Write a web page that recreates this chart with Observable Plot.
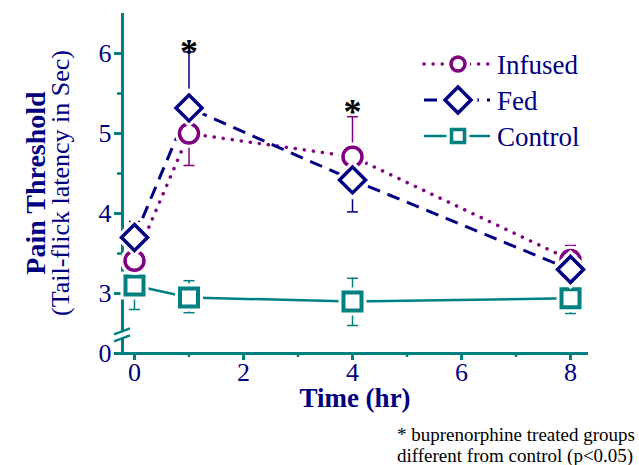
<!DOCTYPE html>
<html>
<head>
<meta charset="utf-8">
<script src="https://cdn.jsdelivr.net/npm/d3@7"></script>
<script src="https://cdn.jsdelivr.net/npm/@observablehq/plot@0.6"></script>
<style>
  html, body { margin: 0; padding: 0; background: #fff; }
  #chart svg { display: block; }
  #chart svg, #chart svg text { font-family: "Liberation Serif", "Times New Roman", serif !important; }
</style>
</head>
<body>
<div id="chart"></div>
<script>
// ---- data ----
const hours = [0, 1, 4, 8];
const seriesNames = ["Infused", "Fed", "Control"];
const infused = [3.41, 5.0, 4.71, 3.42];
const fed = [3.7, 5.32, 4.42, 3.3];
const control = [3.1, 2.95, 2.9, 2.94];
// visible error-bar halves (null = hidden behind another marker)
const infusedErrUp = [null, null, 0.5, 0.18];
const infusedErrDown = [null, 0.4, null, null];
const fedErrUp = [0.2, 0.7, null, null];
const fedErrDown = [null, null, 0.4, null];
const controlErrUp = [null, 0.21, 0.29, null];
const controlErrDown = [0.3, 0.19, 0.3, 0.19];
// significance asterisks
const sigHours = [1, 4];
const sigY = [6.08, 5.33];
// axes
const xTicks = [0, 2, 4, 6, 8];
const xMinorTicks = [1, 3, 5, 7];
const yBreakValue = 2.25;          // position where "0" sits below the axis break
const yTicks = [yBreakValue, 3, 4, 5, 6];
const yMinorTicks = [3.5, 4.5, 5.5];
const xDomain = [-0.22, 8.33];
const yDomain = [yBreakValue, 6.5];
const footnote = ["* buprenorphine treated groups", "different from control (p<0.05)"];

const colors = {Infused: "#800080", Fed: "#000080", Control: "#008080"};
const teal = "#008080", navy = "#000080";

// ---- custom symbols ----
const rOf = size => Math.sqrt(size / Math.PI);
const capSymbol = {draw(ctx, size) { const r = rOf(size); ctx.moveTo(-r, 0); ctx.lineTo(r, 0); }};
const diamondSymbol = {draw(ctx, size) { const r = rOf(size); ctx.moveTo(0, -r); ctx.lineTo(r, 0); ctx.lineTo(0, r); ctx.lineTo(-r, 0); ctx.closePath(); }};
const squareSymbol = {draw(ctx, size) { const r = rOf(size); ctx.moveTo(-r, -r); ctx.lineTo(r, -r); ctx.lineTo(r, r); ctx.lineTo(-r, r); ctx.closePath(); }};
const circleSymbol = {draw(ctx, size) { const r = rOf(size); ctx.moveTo(r, 0); ctx.arc(0, 0, r, 0, 2 * Math.PI); ctx.closePath(); }};

const seriesDefs = [
  {name: "Infused", values: infused, up: infusedErrUp, down: infusedErrDown, symbol: circleSymbol, r: 9.5, dash: "0.1 9", width: 3.5, mw: 3.5},
  {name: "Fed", values: fed, up: fedErrUp, down: fedErrDown, symbol: diamondSymbol, r: 13, dash: "13 8", width: 3, mw: 3.5},
  {name: "Control", values: control, up: controlErrUp, down: controlErrDown, symbol: squareSymbol, r: 9, dash: null, width: 2.5, mw: 4}
];

const rows = d => d.values.map((v, i) => ({hour: hours[i], value: v, up: d.up[i], down: d.down[i], name: d.name}));

const marks = [];
// axis lines
marks.push(Plot.ruleX([xDomain[0]], {y1: yDomain[0], y2: yDomain[1], stroke: teal, strokeWidth: 3}));
marks.push(Plot.ruleY([yDomain[0]], {x1: xDomain[0], x2: xDomain[1], stroke: teal, strokeWidth: 3}));
marks.push(Plot.axisY({ticks: yTicks, tickFormat: d => d === yBreakValue ? "0" : String(d), tickSize: 8, tickPadding: 3, stroke: teal, strokeWidth: 3, fill: navy, fontSize: 26, label: null}));
marks.push(Plot.axisY({ticks: yMinorTicks, tickSize: 5, text: null, stroke: teal, strokeWidth: 2.5, label: null}));
marks.push(Plot.axisX({ticks: xTicks, tickSize: 7, tickPadding: 2, stroke: teal, strokeWidth: 3, fill: navy, fontSize: 26, label: null}));
marks.push(Plot.axisX({ticks: xMinorTicks, tickSize: 4, text: null, stroke: teal, strokeWidth: 2.5, label: null}));

// lines
for (const s of seriesDefs) {
  marks.push(Plot.line(rows(s), {x: "hour", y: "value", stroke: colors[s.name], strokeWidth: s.width,
    strokeDasharray: s.dash, strokeLinecap: s.name === "Infused" ? "round" : "butt"}));
}
// error bars
for (const s of seriesDefs) {
  const ups = rows(s).filter(d => d.up != null);
  const downs = rows(s).filter(d => d.down != null);
  const c = colors[s.name];
  marks.push(Plot.ruleX(ups, {x: "hour", y1: "value", y2: d => d.value + d.up, stroke: c, strokeWidth: 1.5}));
  marks.push(Plot.dot(ups, {x: "hour", y: d => d.value + d.up, symbol: capSymbol, r: 5.5, stroke: c, strokeWidth: 1.5}));
  marks.push(Plot.ruleX(downs, {x: "hour", y1: "value", y2: d => d.value - d.down, stroke: c, strokeWidth: 1.5}));
  marks.push(Plot.dot(downs, {x: "hour", y: d => d.value - d.down, symbol: capSymbol, r: 5.5, stroke: c, strokeWidth: 1.5}));
}
// markers (with white halo to leave a gap between lines and markers)
for (const s of [seriesDefs[2], seriesDefs[0], seriesDefs[1]]) {
  marks.push(Plot.dot(rows(s), {x: "hour", y: "value", symbol: s.symbol, r: s.r, fill: "white", stroke: "white", strokeWidth: s.mw + 6}));
  marks.push(Plot.dot(rows(s), {x: "hour", y: "value", symbol: s.symbol, r: s.r, fill: "white", stroke: colors[s.name], strokeWidth: s.mw}));
}
// asterisks
marks.push(Plot.text(sigHours.map((h, i) => ({hour: h, y: sigY[i]})), {x: "hour", y: "y", text: () => "*", fontSize: 36, fontWeight: "bold", fill: "black", dy: 5}));

const plot = Plot.plot({
  width: 639, height: 465,
  marginLeft: 122, marginRight: 51, marginTop: 13, marginBottom: 112,
  x: {domain: xDomain},
  y: {domain: yDomain},
  style: {fontFamily: "'Liberation Serif', 'Times New Roman', serif", background: "white", overflow: "visible"},
  marks
});

const svg = d3.select(plot);
const xs = plot.scale("x"), ys = plot.scale("y");
const font = "'Liberation Serif', 'Times New Roman', serif";

// axis break marks
{
  const ax = xs.apply(xDomain[0]);
  const yb = ys.apply(2.52);
  const g = svg.append("g");
  g.append("path").attr("d", `M${ax - 8},${yb + 3} L${ax + 8},${yb - 3} L${ax + 8},${yb + 4} L${ax - 8},${yb + 10} Z`).attr("fill", "white");
  g.append("line").attr("x1", ax - 8).attr("y1", yb + 3).attr("x2", ax + 8).attr("y2", yb - 3).attr("stroke", teal).attr("stroke-width", 2.5);
  g.append("line").attr("x1", ax - 8).attr("y1", yb + 10).attr("x2", ax + 8).attr("y2", yb + 4).attr("stroke", teal).attr("stroke-width", 2.5);
}

// axis titles
svg.append("text").attr("x", (xs.range[0] + xs.range[1]) / 2).attr("y", 407)
  .attr("text-anchor", "middle").attr("font-family", font).attr("font-size", 27).attr("font-weight", "bold").attr("fill", navy).text("Time (hr)");
const yMid = (ys.range[0] + ys.range[1]) / 2;
svg.append("text").attr("transform", `translate(45,${yMid}) rotate(-90)`)
  .attr("text-anchor", "middle").attr("font-family", font).attr("font-size", 28).attr("font-weight", "bold").attr("fill", navy).text("Pain Threshold");
svg.append("text").attr("transform", `translate(69,${yMid}) rotate(-90)`)
  .attr("text-anchor", "middle").attr("font-family", font).attr("font-size", 26).attr("fill", navy).text("(Tail-flick latency in Sec)");

// legend
{
  const rowsY = [64, 100, 136];
  const legendSyms = [
    {sym: d3.symbol(circleSymbol, Math.PI * 7 * 7), w: 3.5},
    {sym: d3.symbol(diamondSymbol, Math.PI * 13 * 13), w: 3.5},
    {sym: d3.symbol(squareSymbol, Math.PI * 6.5 * 6.5), w: 3.5}
  ];
  seriesDefs.forEach((s, i) => {
    const y = rowsY[i];
    const g = svg.append("g");
    g.append("line").attr("x1", 424).attr("x2", 490).attr("y1", y).attr("y2", y)
      .attr("stroke", colors[s.name]).attr("stroke-width", s.width)
      .attr("stroke-dasharray", s.name === "Infused" ? "0.1 9" : s.name === "Fed" ? "13 8" : null)
      .attr("stroke-linecap", s.name === "Infused" ? "round" : "butt");
    g.append("path").attr("transform", `translate(458,${y})`).attr("d", legendSyms[i].sym())
      .attr("fill", "white").attr("stroke", "white").attr("stroke-width", 10);
    g.append("path").attr("transform", `translate(458,${y})`).attr("d", legendSyms[i].sym())
      .attr("fill", "white").attr("stroke", colors[s.name]).attr("stroke-width", legendSyms[i].w);
    g.append("text").attr("x", 497).attr("y", y + 10).attr("text-anchor", "start").attr("font-family", font).attr("font-size", 27)
      .attr("fill", navy).text(s.name);
  });
}

// footnote
footnote.forEach((t, i) => {
  svg.append("text").attr("x", 397).attr("y", 441 + i * 21).attr("text-anchor", "start").attr("font-family", font).attr("font-size", 19)
    .attr("fill", "black").text(t);
});

document.getElementById("chart").appendChild(plot);
</script>
</body>
</html>
